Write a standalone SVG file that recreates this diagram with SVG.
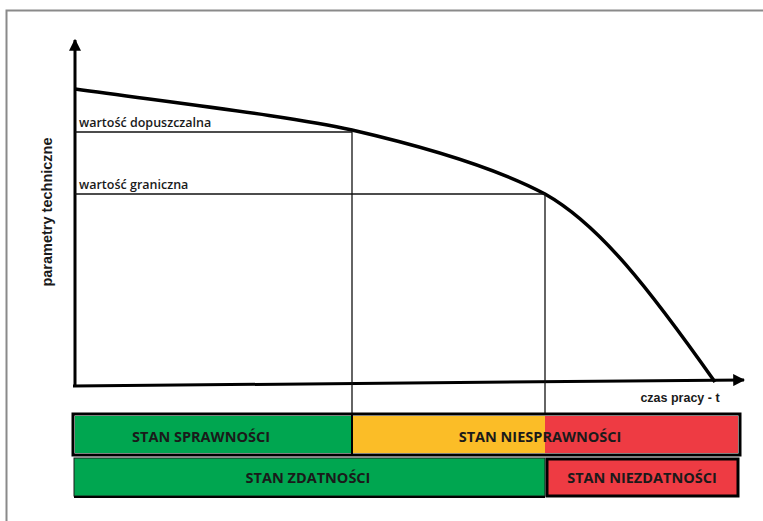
<svg xmlns="http://www.w3.org/2000/svg" width="763" height="521" viewBox="0 0 763 521">
<style>
.lbl{font-family:"Liberation Sans",Arial,sans-serif;font-weight:bold;fill:#1a1a1a}
.val{font-family:"Open Sans","Liberation Sans",sans-serif;font-size:12.5px;font-weight:600;fill:#1a1a1a}
.thin{stroke:#111;stroke-width:1.3;fill:none}
.st{font-family:"Open Sans","Liberation Sans",sans-serif;font-weight:bold;font-size:14.5px;fill:#1a1a1a;text-anchor:middle}
</style>
<defs>
<marker id="arr" viewBox="0 0 10 10" refX="9" refY="5" markerWidth="4" markerHeight="4" orient="auto" markerUnits="strokeWidth">
<path d="M0,0 L10,5 L0,10 z" fill="#000"/>
</marker>
</defs>
<rect x="0" y="0" width="763" height="521" fill="#fff"/>
<path d="M6.5,530 L6.5,10.5 L770,10.5" fill="none" stroke="#8a8a8a" stroke-width="2"/>

<g id="connectors">
<line x1="75" y1="387" x2="75" y2="40" stroke="#000" stroke-width="3" marker-end="url(#arr)"/>
<line x1="73" y1="386" x2="744" y2="380" stroke="#000" stroke-width="3" marker-end="url(#arr)"/>
<path d="M75,89 C200,106 300,118 352,130 C430,148 500,170 545,194 C600,225 650,290 715,382" fill="none" stroke="#000" stroke-width="3.5"/>
<line class="thin" x1="75" y1="132" x2="352" y2="132"/>
<line class="thin" x1="75" y1="194" x2="545" y2="194"/>
<line class="thin" x1="352" y1="131" x2="352" y2="414"/>
<line class="thin" x1="545" y1="194" x2="545" y2="414"/>
</g>

<g id="axis-labels">
<text class="lbl" font-size="14.5" transform="translate(52,212) rotate(-90)" text-anchor="middle">parametry techniczne</text>
<text class="lbl" font-size="12.5" x="680" y="402" text-anchor="middle">czas pracy - t</text>
<text class="val" x="79" y="127">wartość dopuszczalna</text>
<text class="val" x="79" y="189">wartość graniczna</text>
</g>

<g id="stan-sprawnosci">
<rect x="75" y="416" width="277" height="37" fill="#00a650"/>
<text class="st" x="201" y="442">STAN SPRAWNOŚCI</text>
</g>
<g id="stan-niesprawnosci">
<rect x="352" y="416" width="193" height="37" fill="#fbbd27"/>
<rect x="545" y="416" width="193" height="37" fill="#ee3b43"/>
<text class="st" x="540" y="442">STAN NIESPRAWNOŚCI</text>
</g>
<rect x="73" y="414" width="667" height="41" fill="none" stroke="#000" stroke-width="3"/>
<line x1="352" y1="414" x2="352" y2="455" stroke="#000" stroke-width="2"/>

<g id="stan-zdatnosci">
<rect x="74" y="458" width="471" height="38" fill="#00a650" stroke="#1a1a1a" stroke-width="1"/>
<line x1="74" y1="497" x2="545" y2="497" stroke="#000" stroke-width="2"/>
<text class="st" x="308" y="483">STAN ZDATNOŚCI</text>
</g>
<g id="stan-niezdatnosci">
<rect x="547" y="459" width="191" height="37" fill="#ee3b43" stroke="#000" stroke-width="3"/>
<text class="st" x="642" y="483">STAN NIEZDATNOŚCI</text>
</g>
</svg>
